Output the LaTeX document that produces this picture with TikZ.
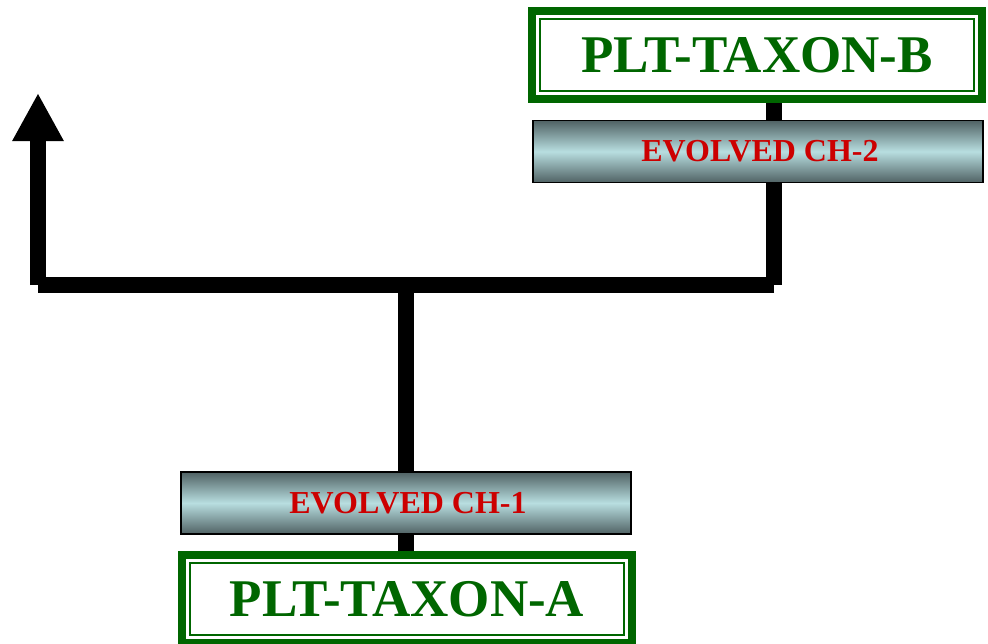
\documentclass[tikz,border=0pt]{standalone}
\usepackage{fontspec}
\setmainfont{Liberation Serif}
\usetikzlibrary{arrows.meta,backgrounds}
\definecolor{taxgreen}{RGB}{0,102,0}
\definecolor{chred}{RGB}{204,0,0}
\definecolor{barlight}{RGB}{184,222,224}
\definecolor{bardark}{RGB}{80,98,100}
\begin{document}
\begin{tikzpicture}[x=1pt,y=-1pt,
  taxon/.style={draw=taxgreen,line width=8pt,fill=white,minimum width=450pt,
    minimum height=88pt,text=taxgreen,font=\fontsize{53}{60}\selectfont\bfseries},
  innerframe/.style={draw=taxgreen,line width=2pt,minimum width=434pt,minimum height=72pt},
  change/.style={draw=black,line width=1.5pt,top color=bardark,bottom color=bardark,
    middle color=barlight,minimum width=450pt,minimum height=62pt,text=chred,
    font=\fontsize{32}{38}\selectfont\bfseries},
  trunk/.style={line width=15.5pt}]
\useasboundingbox (0,0) rectangle (988,643);
% taxa and changes
\node[taxon](taxb) at (757,55) {PLT-TAXON-B};
\node[innerframe](taxbin) at (taxb.center) {};
\node[change](chb) at (758,151.5) {\hspace{4pt}EVOLVED CH-2};
\node[change](cha) at (406,503) {\hspace{4pt}EVOLVED CH-1};
\node[taxon](taxa) at (407,599) {PLT-TAXON-A};
\node[innerframe](taxain) at (taxa.center) {};
% branches
\coordinate (jr) at (774,285);
\coordinate (jm) at (406,285);
\coordinate (jl) at (38,285);
\coordinate (tip) at (38,93);
\begin{scope}[on background layer]
\draw[trunk] (taxb.south -| jr) -- (jr);
\draw[trunk] (jr) -- (jl);
\draw[trunk,-{Triangle[length=48pt,width=48pt]}] (jl) -- (tip);
\draw[trunk] (taxa.north -| jm) -- (jm);
\end{scope}
\end{tikzpicture}
\end{document}
